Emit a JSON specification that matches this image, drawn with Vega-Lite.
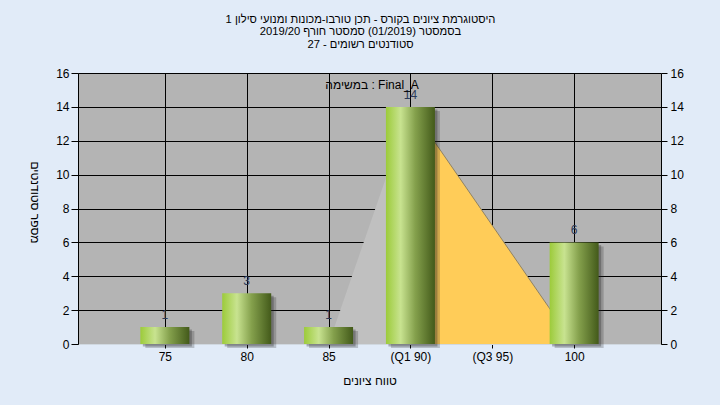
{
  "$schema": "https://vega.github.io/schema/vega-lite/v6.json",
  "autosize": {"type": "none"},
  "width": 583,
  "height": 271,
  "padding": {"left": 78, "top": 73, "right": 59, "bottom": 61},
  "background": "#e1ebf8",
  "config": {
    "font": "Liberation Sans",
    "view": {"fill": "#b4b4b4", "stroke": null},
    "axis": {
      "labelFont": "Liberation Sans",
      "titleFont": "Liberation Sans",
      "labelFontSize": 12,
      "titleFontSize": 12,
      "titleFontWeight": "normal",
      "labelColor": "#000000",
      "titleColor": "#000000",
      "domainColor": "#000000",
      "tickColor": "#000000",
      "gridColor": "#000000",
      "gridOpacity": 1,
      "gridWidth": 1
    }
  },
  "title": {
    "text": ["היסטוגרמת ציונים בקורס - תכן טורבו-מכונות ומנועי סילון 1", "בסמסטר  (01/2019)  סמסטר חורף 2019/20", "סטודנטים רשומים - 27"],
    "anchor": "middle",
    "dx": -9,
    "offset": 17,
    "fontSize": 11.2,
    "fontWeight": "normal",
    "lineHeight": 12.5,
    "color": "#000000",
    "font": "Liberation Sans",
    "encode": {"title": {"update": {"dir": {"value": "rtl"}}}}
  },
  "datasets": {
    "bars": [
      {"grade": 75, "count": 1},
      {"grade": 80, "count": 3},
      {"grade": 85, "count": 1},
      {"grade": 90, "count": 14},
      {"grade": 95, "count": 0},
      {"grade": 100, "count": 6}
    ],
    "dist": [
      {"grade": 85, "count": 0},
      {"grade": 90, "count": 14},
      {"grade": 100, "count": 0}
    ],
    "quart": [
      {"grade": 90, "count": 14},
      {"grade": 100, "count": 0}
    ],
    "note": [
      {"grade": 84.8, "count": 15.3, "label": "במשימה : Final_A"}
    ]
  },
  "resolve": {"axis": {"y": "independent", "x": "independent"}},
  "layer": [
    {
      "data": {"name": "dist"},
      "mark": {"type": "area", "color": "#c0c0c0", "opacity": 1},
      "encoding": {
        "x": {
          "field": "grade", "type": "quantitative",
          "scale": {"domain": [70, 105], "nice": false, "zero": false},
          "axis": {
            "values": [75, 80, 85, 90, 95, 100],
            "labelExpr": "datum.value == 90 ? '(Q1 90)' : datum.value == 95 ? '(Q3 95)' : datum.label",
            "grid": true,
            "tickSize": 4,
            "labelPadding": 3,
            "domainColor": "#d0d8e0",
            "title": "טווח ציונים",
            "titleY": 36,
            "titleBaseline": "middle"
          }
        },
        "y": {
          "field": "count", "type": "quantitative",
          "scale": {"domain": [0, 16], "nice": false},
          "axis": {
            "values": [0, 2, 4, 6, 8, 10, 12, 14, 16],
            "grid": true,
            "tickSize": 7,
            "labelPadding": 2,
            "title": "מספר סטודנטים",
            "titleAngle": 90,
            "titleX": -44,
            "titleY": 129,
            "titleAlign": "center",
            "titleBaseline": "middle"
          }
        }
      }
    },
    {
      "data": {"name": "quart"},
      "mark": {"type": "area", "color": "#ffcc58", "opacity": 1, "line": {"color": "#8f8262", "strokeWidth": 1}},
      "encoding": {
        "x": {"field": "grade", "type": "quantitative", "axis": null},
        "y": {"field": "count", "type": "quantitative", "axis": {
            "orient": "right",
            "values": [0, 2, 4, 6, 8, 10, 12, 14, 16],
            "grid": false,
            "tickSize": 6,
            "labelPadding": 3,
            "title": null
          }}
      }
    },
    {
      "data": {"name": "bars"},
      "transform": [{"filter": "datum.count > 0"}],
      "mark": {"type": "bar", "size": 49, "color": "#202020", "opacity": 0.22, "xOffset": 5, "yOffset": 4, "clip": false},
      "encoding": {
        "x": {"field": "grade", "type": "quantitative", "axis": null},
        "y": {"field": "count", "type": "quantitative", "axis": null}
      }
    },
    {
      "data": {"name": "bars"},
      "transform": [{"filter": "datum.count > 0"}],
      "mark": {"type": "bar", "size": 49, "color": "#202020", "opacity": 0.3, "xOffset": 2.5, "yOffset": 2.5, "clip": false},
      "encoding": {
        "x": {"field": "grade", "type": "quantitative", "axis": null},
        "y": {"field": "count", "type": "quantitative", "axis": null}
      }
    },
    {
      "data": {"name": "bars"},
      "mark": {
        "type": "bar", "size": 49,
        "color": {
          "gradient": "linear", "x1": 0, "x2": 1, "y1": 0, "y2": 0,
          "stops": [
            {"offset": 0, "color": "#9ccb3a"},
            {"offset": 0.3, "color": "#c8e390"},
            {"offset": 0.6, "color": "#84a04c"},
            {"offset": 1, "color": "#435a1a"}
          ]
        }
      },
      "encoding": {
        "x": {"field": "grade", "type": "quantitative", "axis": null},
        "y": {"field": "count", "type": "quantitative", "axis": null}
      }
    },
    {
      "data": {"name": "bars"},
      "transform": [{"filter": "datum.count > 0"}],
      "mark": {"type": "text", "fontSize": 12, "color": "#2c3a58", "baseline": "middle", "dy": -12, "font": "Liberation Sans"},
      "encoding": {
        "x": {"field": "grade", "type": "quantitative", "axis": null},
        "y": {"field": "count", "type": "quantitative", "axis": null},
        "text": {"field": "count", "type": "quantitative"}
      }
    },
    {
      "data": {"name": "note"},
      "mark": {"type": "text", "fontSize": 12, "color": "#000000", "align": "left", "baseline": "middle", "font": "Liberation Sans"},
      "encoding": {
        "x": {"field": "grade", "type": "quantitative", "axis": null},
        "y": {"field": "count", "type": "quantitative", "axis": null},
        "text": {"field": "label"}
      }
    }
  ]
}
